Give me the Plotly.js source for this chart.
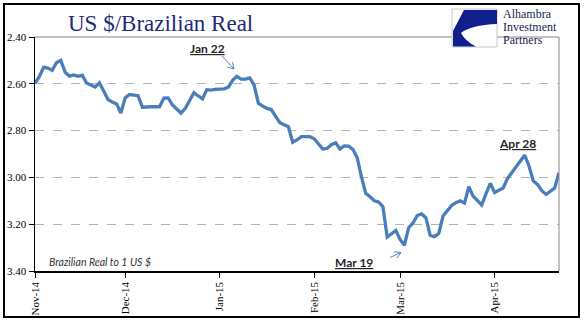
<!DOCTYPE html>
<html>
<head>
<meta charset="utf-8">
<script src="https://cdn.plot.ly/plotly-3.0.1.min.js"></script>
<style>
html,body{margin:0;padding:0;background:#fff;}
#chart{width:588px;height:321px;}
</style>
</head>
<body>
<div id="chart"></div>
<script>
// Brazilian Real per 1 US $ (one value per trading day, Nov-2014 .. early May-2015)
const brlPerUsd = [
  2.598, 2.570, 2.530, 2.533, 2.542, 2.510, 2.500, 2.550, 2.567, 2.562,
  2.568, 2.563, 2.597, 2.606, 2.614, 2.596, 2.630, 2.667, 2.678, 2.686,
  2.725, 2.660, 2.646, 2.649, 2.651, 2.700, 2.698, 2.698, 2.698, 2.698,
  2.661, 2.660, 2.690, 2.710, 2.725, 2.705, 2.670, 2.638, 2.652, 2.664,
  2.625, 2.627, 2.624, 2.623, 2.622, 2.614, 2.585, 2.568, 2.580, 2.580,
  2.575, 2.605, 2.683, 2.695, 2.705, 2.710, 2.735, 2.766, 2.775, 2.783,
  2.850, 2.840, 2.826, 2.826, 2.826, 2.835, 2.860, 2.879, 2.876, 2.860,
  2.852, 2.878, 2.865, 2.866, 2.880, 2.915, 2.997, 3.068, 3.083, 3.100,
  3.105, 3.125, 3.255, 3.242, 3.227, 3.265, 3.290, 3.215, 3.195, 3.163,
  3.156, 3.172, 3.247, 3.253, 3.240, 3.165, 3.140, 3.120, 3.108, 3.100,
  3.110, 3.040, 3.080, 3.098, 3.118, 3.070, 3.025, 3.064, 3.055, 3.045,
  3.005, 2.980, 2.957, 2.930, 2.905, 2.950, 3.015, 3.030, 3.057, 3.073,
  3.058, 3.045, 2.980
];
const dayIndex = brlPerUsd.map((v, i) => i);

const xTickIndex  = [0, 21, 43, 65, 85, 107];
const xTickLabels = ['Nov-14', 'Dec-14', 'Jan-15', 'Feb-15', 'Mar-15', 'Apr-15'];
const yTickValues = [2.40, 2.60, 2.80, 3.00, 3.20, 3.40];

const callouts = [
  {label: 'Jan 22', px: 207, py: 48},
  {label: 'Mar 19', px: 354, py: 262},
  {label: 'Apr 28', px: 517, py: 143}
];
const logoLines = ['Alhambra', 'Investment', 'Partners'];

// ---- layout helpers (pixel -> paper) ----
const W = 588, H = 321;
const M = {l: 35, r: 29, t: 37, b: 50};
const PW = W - M.l - M.r, PH = H - M.t - M.b;
const fx = x => (x - M.l) / PW;
const fy = y => (H - M.b - y) / PH;
const P = (x, y) => fx(x) + ',' + fy(y);

function arrowPath(tx, ty, hx, hy, size) {
  const dx = hx - tx, dy = hy - ty, L = Math.hypot(dx, dy);
  const ux = dx / L, uy = dy / L;
  const a = Math.PI / 6;
  const w1x = hx - size * (ux * Math.cos(a) - uy * Math.sin(a));
  const w1y = hy - size * (uy * Math.cos(a) + ux * Math.sin(a));
  const w2x = hx - size * (ux * Math.cos(-a) - uy * Math.sin(-a));
  const w2y = hy - size * (uy * Math.cos(-a) + ux * Math.sin(-a));
  return 'M' + P(tx, ty) + ' L' + P(hx, hy) + ' M' + P(w1x, w1y) + ' L' + P(hx, hy) + ' L' + P(w2x, w2y);
}

const shapes = [
  // plot-area top and right border (gray)
  {type: 'line', xref: 'paper', yref: 'paper', x0: 0, x1: 1, y0: 1, y1: 1, line: {color: '#868686', width: 1}},
  {type: 'line', xref: 'paper', yref: 'paper', x0: 1, x1: 1, y0: 0, y1: 1, line: {color: '#868686', width: 1}},
  // outer black frame
  {type: 'rect', xref: 'paper', yref: 'paper', x0: fx(4), x1: fx(579), y0: fy(317), y1: fy(4), line: {color: '#000', width: 2}},
  // logo box
  {type: 'rect', xref: 'paper', yref: 'paper', x0: fx(452), x1: fx(497), y0: fy(47), y1: fy(9), fillcolor: '#fff', line: {color: '#c8c8c8', width: 1}},
  // logo mark
  {type: 'path', xref: 'paper', yref: 'paper',
   path: 'M' + P(464, 10) + ' L' + P(497, 10) + ' L' + P(497, 24) + ' Q' + P(471, 25) + ' ' + P(461, 33) +
         ' Q' + P(465, 41) + ' ' + P(476, 46.5) + ' L' + P(453, 46.5) + ' L' + P(453, 31) + ' Z',
   fillcolor: '#0f1f8c', line: {width: 0}},
  // arrows
  {type: 'path', xref: 'paper', yref: 'paper', path: arrowPath(222, 56, 234, 69, 7), line: {color: '#5b84b8', width: 1}},
  {type: 'path', xref: 'paper', yref: 'paper', path: arrowPath(390, 257.5, 401, 252.5, 7), line: {color: '#5b84b8', width: 1}}
];

const annotations = [
  {xref: 'paper', yref: 'paper', x: fx(160), y: fy(24), xanchor: 'center', yanchor: 'middle', showarrow: false,
   text: 'US $/Brazilian Real', font: {family: 'Liberation Serif, serif', size: 23, color: '#1f2a78'}},
  {xref: 'paper', yref: 'paper', x: fx(47), y: fy(262), xanchor: 'left', yanchor: 'middle', showarrow: false,
   text: '<i>Brazilian Real to 1 US $</i>', font: {family: 'Lato, sans-serif', size: 10.5, color: '#333'}}
].concat(logoLines.map((t, i) => ({
  xref: 'paper', yref: 'paper', x: fx(501), y: fy(14 + 13 * i), xanchor: 'left', yanchor: 'middle', showarrow: false,
  text: t, font: {family: 'Liberation Serif, serif', size: 12, color: '#1b2350'}
}))).concat(callouts.map(c => ({
  xref: 'paper', yref: 'paper', x: fx(c.px), y: fy(c.py), xanchor: 'center', yanchor: 'middle', showarrow: false,
  text: '<b><u>' + c.label + '</u></b>', font: {family: 'Lato, sans-serif', size: 12, color: '#262626'}
})));

const trace = {
  x: dayIndex, y: brlPerUsd, type: 'scatter', mode: 'lines',
  line: {color: '#4a7ebb', width: 3.3}, hoverinfo: 'skip'
};

const layout = {
  width: W, height: H,
  margin: M,
  paper_bgcolor: '#fff', plot_bgcolor: '#fff',
  showlegend: false,
  font: {family: 'Liberation Serif, serif', size: 11, color: '#000'},
  xaxis: {
    range: [0, dayIndex.length - 1],
    tickmode: 'array', tickvals: xTickIndex, ticktext: xTickLabels,
    tickangle: -90, ticks: 'outside', ticklen: 5, tickcolor: '#000', tickwidth: 1,
    showline: true, linecolor: '#000', linewidth: 1.5,
    showgrid: false, zeroline: false,
    tickfont: {family: 'Liberation Serif, serif', size: 11, color: '#000'}
  },
  yaxis: {
    range: [3.40, 2.40],
    tickmode: 'array', tickvals: yTickValues, tickformat: '.2f',
    ticks: 'outside', ticklen: 5, tickcolor: '#000', tickwidth: 1,
    showline: true, linecolor: '#000', linewidth: 1.5,
    showgrid: true, gridcolor: '#b4b4b4', griddash: 'dash', gridwidth: 1,
    zeroline: false,
    tickfont: {family: 'Liberation Serif, serif', size: 11, color: '#000'}
  },
  shapes: shapes,
  annotations: annotations
};

Plotly.newPlot('chart', [trace], layout, {staticPlot: true, displayModeBar: false});
</script>
</body>
</html>
